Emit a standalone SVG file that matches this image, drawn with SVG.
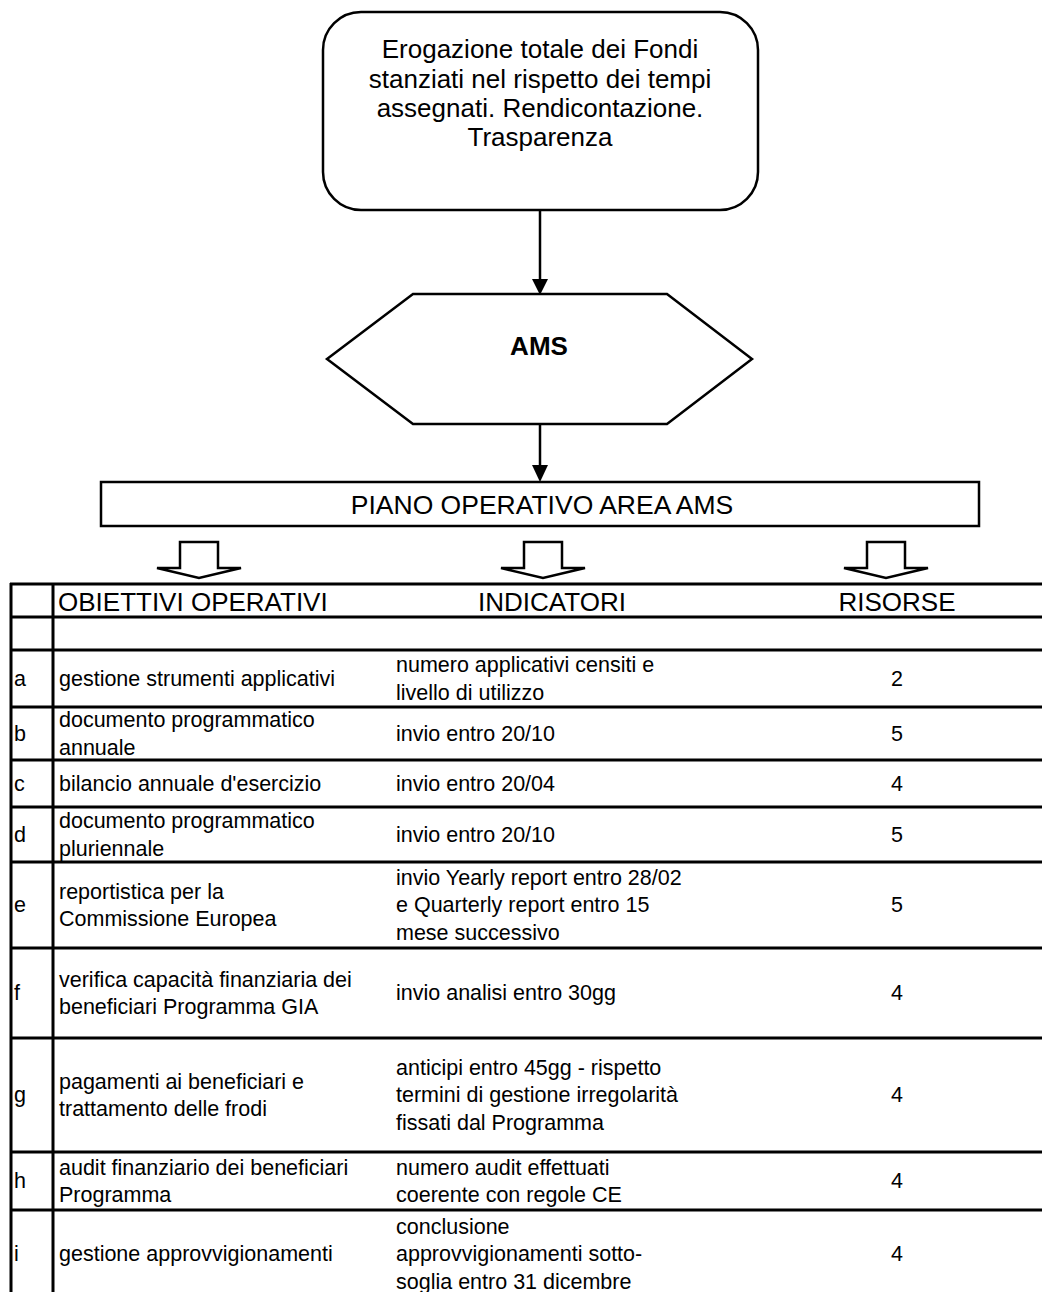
<svg xmlns="http://www.w3.org/2000/svg" width="1042" height="1292" viewBox="0 0 1042 1292">
  <defs>
    <!-- hollow block arrow pointing down; origin at top centre of the shaft -->
    <path id="blockArrow" d="M-19,0 L19,0 L19,26 L42,26 L0,36 L-42,26 L-19,26 Z"/>
  </defs>
  <style>
    text { font-family: "Liberation Sans", Arial, Helvetica, sans-serif; fill: #000; }
    .box { fill: #fff; stroke: #000; stroke-width: 2.5; }
    .big { font-size: 26px; text-anchor: middle; }
    .bold { font-weight: bold; }
    .hdr { font-size: 26px; }
    .cell { font-size: 21.5px; }
    .mid { text-anchor: middle; }
    .grid line { stroke: #000; stroke-width: 3; }
    .conn { stroke: #000; stroke-width: 2.5; fill: none; }
    .head { fill: #000; stroke: none; }
    .barrow { fill: #fff; stroke: #000; stroke-width: 2.5; stroke-linejoin: miter; }
  </style>
  <rect width="1042" height="1292" fill="#fff"/>

  <!-- connectors -->
  <g id="connectors">
    <line class="conn" x1="540" y1="210" x2="540" y2="282"/>
    <polygon class="head" points="532,279 548,279 540,295"/>
    <line class="conn" x1="540" y1="424" x2="540" y2="468"/>
    <polygon class="head" points="532,465 548,465 540,482"/>
    <use href="#blockArrow" class="barrow" x="199" y="542"/>
    <use href="#blockArrow" class="barrow" x="543" y="542"/>
    <use href="#blockArrow" class="barrow" x="886" y="542"/>
  </g>

  <!-- goal -->
  <g id="node-goal">
    <rect class="box" x="323" y="12" width="435" height="198" rx="38" ry="38"/>
    <text class="big" x="540" y="58">Erogazione totale dei Fondi</text>
    <text class="big" x="540" y="88">stanziati nel rispetto dei tempi</text>
    <text class="big" x="540" y="117">assegnati. Rendicontazione.</text>
    <text class="big" x="540" y="146">Trasparenza</text>
  </g>

  <!-- area -->
  <g id="node-ams">
    <polygon class="box" points="413,294 667,294 752,359 667,424 413,424 327,359"/>
    <text class="big bold" x="539" y="355">AMS</text>
  </g>

  <!-- operating plan -->
  <g id="node-piano">
    <rect class="box" x="101" y="482" width="878" height="44"/>
    <text class="big" x="542" y="514" style="font-size:26.5px">PIANO OPERATIVO AREA AMS</text>
  </g>

  <!-- table grid -->
  <g id="table" class="grid">
    <line x1="10" y1="584" x2="1042" y2="584"/>
    <line x1="10" y1="617" x2="1042" y2="617"/>
    <line x1="10" y1="650" x2="1042" y2="650"/>
    <line x1="10" y1="707" x2="1042" y2="707"/>
    <line x1="10" y1="760" x2="1042" y2="760"/>
    <line x1="10" y1="807" x2="1042" y2="807"/>
    <line x1="10" y1="862" x2="1042" y2="862"/>
    <line x1="10" y1="948" x2="1042" y2="948"/>
    <line x1="10" y1="1038" x2="1042" y2="1038"/>
    <line x1="10" y1="1152" x2="1042" y2="1152"/>
    <line x1="10" y1="1210" x2="1042" y2="1210"/>
    <line x1="11" y1="583" x2="11" y2="1292"/>
    <line x1="53" y1="583" x2="53" y2="1292"/>
  </g>

  <g id="table-header" class="hdr">
    <text x="58" y="611">OBIETTIVI OPERATIVI</text>
    <text class="mid" x="552" y="611">INDICATORI</text>
    <text class="mid" x="897" y="611">RISORSE</text>
  </g>

  <g id="row-a" class="cell">
    <text x="14" y="686">a</text>
    <text x="59" y="686">gestione strumenti applicativi</text>
    <text x="396" y="672">numero applicativi censiti e</text>
    <text x="396" y="700">livello di utilizzo</text>
    <text class="mid" x="897" y="686">2</text>
  </g>

  <g id="row-b" class="cell">
    <text x="14" y="741">b</text>
    <text x="59" y="727">documento programmatico</text>
    <text x="59" y="755">annuale</text>
    <text x="396" y="741">invio entro 20/10</text>
    <text class="mid" x="897" y="741">5</text>
  </g>

  <g id="row-c" class="cell">
    <text x="14" y="791">c</text>
    <text x="59" y="791">bilancio annuale d'esercizio</text>
    <text x="396" y="791">invio entro 20/04</text>
    <text class="mid" x="897" y="791">4</text>
  </g>

  <g id="row-d" class="cell">
    <text x="14" y="842">d</text>
    <text x="59" y="828">documento programmatico</text>
    <text x="59" y="856">pluriennale</text>
    <text x="396" y="842">invio entro 20/10</text>
    <text class="mid" x="897" y="842">5</text>
  </g>

  <g id="row-e" class="cell">
    <text x="14" y="912">e</text>
    <text x="59" y="899">reportistica per la</text>
    <text x="59" y="926">Commissione Europea</text>
    <text x="396" y="885">invio Yearly report entro 28/02</text>
    <text x="396" y="912">e Quarterly report entro 15</text>
    <text x="396" y="940">mese successivo</text>
    <text class="mid" x="897" y="912">5</text>
  </g>

  <g id="row-f" class="cell">
    <text x="14" y="1000">f</text>
    <text x="59" y="987">verifica capacità finanziaria dei</text>
    <text x="59" y="1014">beneficiari Programma GIA</text>
    <text x="396" y="1000">invio analisi entro 30gg</text>
    <text class="mid" x="897" y="1000">4</text>
  </g>

  <g id="row-g" class="cell">
    <text x="14" y="1102">g</text>
    <text x="59" y="1089">pagamenti ai beneficiari e</text>
    <text x="59" y="1116">trattamento delle frodi</text>
    <text x="396" y="1075">anticipi entro 45gg - rispetto</text>
    <text x="396" y="1102">termini di gestione irregolarità</text>
    <text x="396" y="1130">fissati dal Programma</text>
    <text class="mid" x="897" y="1102">4</text>
  </g>

  <g id="row-h" class="cell">
    <text x="14" y="1188">h</text>
    <text x="59" y="1175">audit finanziario dei beneficiari</text>
    <text x="59" y="1202">Programma</text>
    <text x="396" y="1175">numero audit effettuati</text>
    <text x="396" y="1202">coerente con regole CE</text>
    <text class="mid" x="897" y="1188">4</text>
  </g>

  <g id="row-i" class="cell">
    <text x="14" y="1261">i</text>
    <text x="59" y="1261">gestione approvvigionamenti</text>
    <text x="396" y="1234">conclusione</text>
    <text x="396" y="1261">approvvigionamenti sotto-</text>
    <text x="396" y="1289">soglia entro 31 dicembre</text>
    <text class="mid" x="897" y="1261">4</text>
  </g>
</svg>
